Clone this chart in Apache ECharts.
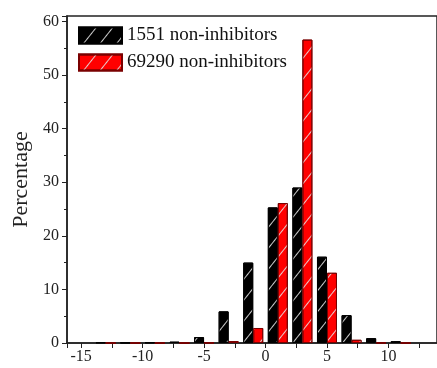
<!DOCTYPE html>
<html><head><meta charset="utf-8">
<script src="https://cdn.jsdelivr.net/npm/echarts@6/dist/echarts.min.js"></script>
<style>html,body{margin:0;padding:0;background:#fff}#c{width:437px;height:368px}</style>
</head><body><div id="c"></div>
<script>
var binCenters = [-13, -11, -9, -7, -5, -3, -1, 1, 3, 5, 7, 9, 11];
var seriesNames = ['1551 non-inhibitors', '69290 non-inhibitors'];
var blackValues = [0.1, 0.05, 0.1, 0.25, 1.1, 5.9, 15.0, 25.3, 29.0, 16.1, 5.2, 0.9, 0.35];
var redValues = [0, 0, 0, 0, 0.05, 0.35, 2.8, 26.1, 56.6, 13.1, 0.6, 0.05, 0];

function pairs(vals){ return binCenters.map(function(x,i){ return [x, vals[i]]; }); }
function decal(){ return {symbol:'rect', symbolSize:1, dashArrayX:[[20,0]], dashArrayY:[1,12], rotation:-0.9, color:'rgba(225,225,225,0.9)'}; }
var font = '"Liberation Serif","Times New Roman",serif';
var chart = echarts.init(document.getElementById('c'), null, {renderer:'canvas'});
chart.setOption({
  animation:false,
  textStyle:{fontFamily:font},
  grid:{left:67, top:16, bottom:25, right:-2, show:true, borderColor:'#222', borderWidth:1.5},
  legend:{orient:'vertical', left:73, top:21, itemWidth:43, itemHeight:16, itemGap:8, icon:'rect',
    textStyle:{fontFamily:font, fontSize:19, color:'#111'}, data:seriesNames},
  xAxis:{type:'value', min:function(){return -16.15;}, max:function(){return 13.95;},
    axisLine:{onZero:false, lineStyle:{color:'#222', width:1.5}},
    axisTick:{length:5, lineStyle:{color:'#222'}},
    minorTick:{show:true, splitNumber:2, length:5, lineStyle:{color:'#222'}},
    splitLine:{show:false},
    axisLabel:{showMinLabel:false, showMaxLabel:false, fontFamily:font, fontSize:16, color:'#222', margin:6}},
  yAxis:{type:'value', position:'left', min:0, max:61, interval:10, name:'Percentage', nameLocation:'middle', nameGap:33,
    nameTextStyle:{fontFamily:font, fontSize:22, color:'#222'},
    axisLine:{show:true, onZero:false, lineStyle:{color:'#222', width:1.5}},
    axisTick:{show:true, length:5, lineStyle:{color:'#222'}},
    minorTick:{show:true, splitNumber:2, length:3, lineStyle:{color:'#222'}},
    splitLine:{show:false},
    axisLabel:{showMaxLabel:false, fontFamily:font, fontSize:16, color:'#222', margin:8}},
  series:[
    {name:seriesNames[0], type:'bar', data:pairs(blackValues), barWidth:10, barGap:'0%',
     itemStyle:{color:'#000', borderColor:'#000', borderWidth:1, decal:decal()}},
    {name:seriesNames[1], type:'bar', data:pairs(redValues), barWidth:10, barGap:'0%',
     itemStyle:{color:'#ff0000', borderColor:'#7a0000', borderWidth:1, decal:decal()}}
  ]
});
</script></body></html>
